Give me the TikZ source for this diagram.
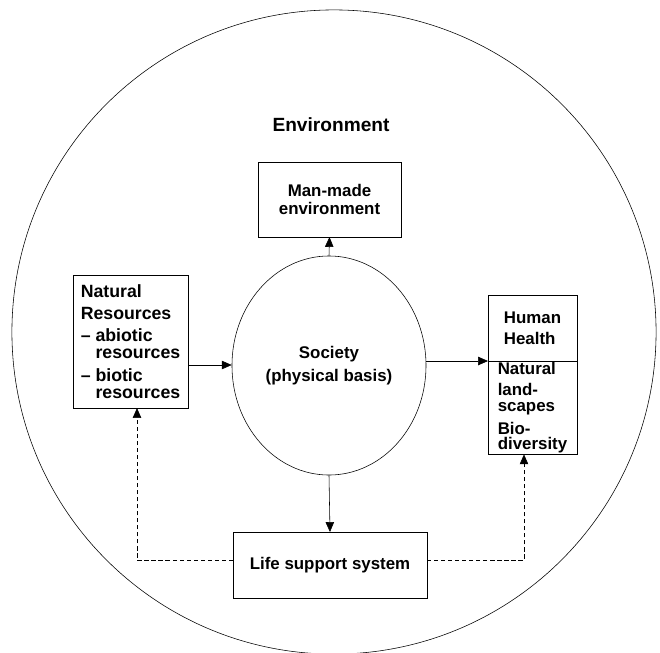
\documentclass[tikz,border=0pt]{standalone}
\usepackage{fontspec}
\setmainfont{Liberation Sans}
\usepackage{tikz}
\usetikzlibrary{arrows, arrows.meta, calc, shapes.geometric}
\tikzset{box text/.style={font=\bfseries\fontsize{12}{12.2}\selectfont}}
\tikzset{every block node/.style={draw,inner sep=1mm,outer sep=0pt,align=left,box text}}
\tikzset{every link/.style={thin,->}}
\tikzset{every feedback/.style={thin,->,dash pattern=on 3pt off 2pt}}

\begin{document}
\begin{tikzpicture}[>={Triangle[length=7pt,width=6pt]}, x=0.025cm, y=-0.025cm]
                    \useasboundingbox (0,0) rectangle (660,653);
                    %\draw[help lines] (0, 0) grid (660,653);

                    \draw (334, 332) circle (8.05cm);
                    \node[font=\bfseries\fontsize{13.6}{15}\selectfont] at (331, 125) (env){Environment};

                    \node[every block node, align=center, minimum width=3.575cm, minimum height=1.875cm] at (329.5, 199.5) (manmade){Man-made\\environment};
                    \node[draw, ellipse, inner sep=0pt, minimum width=4.85cm, minimum height=5.475cm, align=center, box text] at (329, 365.5) (society){Society\\[4pt](physical basis)};
                    \node[every block node, minimum width=2.875cm, minimum height=3.325cm, font=\bfseries\fontsize{12.6}{12.2}\selectfont] at (130.5, 341.5) (resources){Natural\\[3.6pt]Resources\\[3.6pt]-- abiotic\\\phantom{-- }resources\\[3.6pt]-- biotic\\\phantom{-- }resources};
                    \node[every block node, minimum width=2.225cm, minimum height=1.65cm] at (532.5, 328) (health){Human\\[3pt]Health};
                    \node[every block node, anchor=north, inner ysep=1pt, minimum width=2.225cm, minimum height=2.3cm, font=\bfseries\fontsize{12}{10.8}\selectfont] at (health.south) (landscape){Natural\\[4.3pt]land-\\scapes\\[4.3pt]Bio-\\diversity};
                    \node[every block node, align=center, minimum width=4.85cm, minimum height=1.65cm] at (330, 565) (support){Life support system};

                    \coordinate (inlevel) at (0, 365);
                    \coordinate (loopleft) at (137, 560);
                    \coordinate (loopright) at (524, 560);

                    \draw[every link] (society.north) -- (manmade.south);
                    \draw[every link] (resources.east |- inlevel) -- (society.west |- inlevel);
                    \draw[every link] (society.east |- health.south) -- (health.south west);
                    \draw[every link] (society.south) -- (support.north);

                    \draw[every feedback] (support.west |- loopleft) -- (loopleft) -- (resources.south -| loopleft);
                    \draw[every feedback] (support.east |- loopright) -- (loopright) -- (landscape.south -| loopright);

                \end{tikzpicture}
\end{document}
